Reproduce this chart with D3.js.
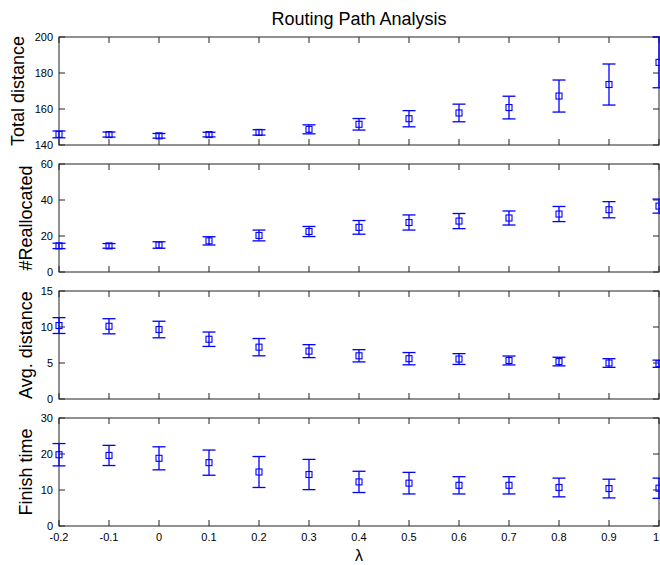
<!DOCTYPE html>
<html>
<head>
<meta charset="utf-8">
<script src="https://cdn.jsdelivr.net/npm/d3@7"></script>
<style>
  body { margin: 0; background: #fff; }
  svg { display: block; font-family: "Liberation Sans", Arial, sans-serif; }
</style>
</head>
<body>
<div id="chart"></div>
<script>
// lambda values on the shared x axis
const lambda = [-0.2, -0.1, 0, 0.1, 0.2, 0.3, 0.4, 0.5, 0.6, 0.7, 0.8, 0.9, 1];
const xTickLabels = ["-0.2", "-0.1", "0", "0.1", "0.2", "0.3", "0.4", "0.5", "0.6", "0.7", "0.8", "0.9", "1"];

// mean and error (half length) for each panel
const totalMean = [145.9, 145.8, 145.1, 145.8, 147.0, 148.7, 151.5, 154.6, 157.8, 160.8, 167.2, 173.6, 185.9];
const totalErr  = [1.9, 1.4, 1.3, 1.3, 1.5, 2.5, 3.2, 4.5, 4.9, 6.3, 8.9, 11.4, 14.1];

const reallocMean = [14.5, 14.5, 15.0, 17.3, 20.3, 22.5, 24.8, 27.5, 28.3, 30.0, 32.2, 34.6, 36.6];
const reallocErr  = [1.5, 1.3, 1.8, 2.3, 3.0, 2.8, 3.8, 4.2, 4.2, 3.9, 4.2, 4.5, 3.9];

const avgMean = [10.2, 10.1, 9.65, 8.3, 7.2, 6.65, 6.0, 5.6, 5.55, 5.35, 5.2, 5.0, 4.9];
const avgErr  = [1.1, 1.05, 1.15, 1.0, 1.2, 0.9, 0.85, 0.85, 0.75, 0.62, 0.6, 0.6, 0.5];

const finishMean = [19.8, 19.6, 18.8, 17.6, 15.0, 14.3, 12.25, 11.9, 11.3, 11.3, 10.7, 10.4, 10.5];
const finishErr  = [3.1, 2.8, 3.2, 3.5, 4.3, 4.2, 2.95, 3.0, 2.4, 2.4, 2.6, 2.6, 2.8];

const panelLabels = ["Total distance", "#Reallocated", "Avg. distance", "Finish time"];
const panelDomains = [[140, 200], [0, 60], [0, 15], [0, 30]];
const panelTicks = [[140, 160, 180, 200], [0, 20, 40, 60], [0, 5, 10, 15], [0, 10, 20, 30]];
const panelMeans = [totalMean, reallocMean, avgMean, finishMean];
const panelErrs = [totalErr, reallocErr, avgErr, finishErr];

const width = 660, height = 565;
const left = 59, right = 659;
const panelTop = [37, 164, 291, 418];
const panelH = 108;
const blue = "#0000ff";
const axisColor = "#222";
const tickLen = 6;
const capHalf = 6.5;
const markerSize = 6;

const svg = d3.select("#chart").append("svg")
    .attr("width", width)
    .attr("height", height);

const x = d3.scaleLinear().domain([-0.2, 1]).range([left, right]);

// title
svg.append("text")
    .attr("x", (left + right) / 2)
    .attr("y", 25)
    .attr("text-anchor", "middle")
    .attr("font-size", 18)
    .text("Routing Path Analysis");

panelLabels.forEach((label, p) => {
    const top = panelTop[p];
    const y = d3.scaleLinear().domain(panelDomains[p]).range([top + panelH, top]);
    const g = svg.append("g");

    // box
    g.append("rect")
        .attr("x", left).attr("y", top)
        .attr("width", right - left).attr("height", panelH)
        .attr("fill", "none").attr("stroke", axisColor).attr("stroke-width", 1);

    // y ticks on both sides, pointing inward
    panelTicks[p].forEach(t => {
        const yy = y(t);
        g.append("line").attr("x1", left).attr("x2", left + tickLen).attr("y1", yy).attr("y2", yy)
            .attr("stroke", axisColor);
        g.append("line").attr("x1", right - tickLen).attr("x2", right).attr("y1", yy).attr("y2", yy)
            .attr("stroke", axisColor);
        g.append("text")
            .attr("x", left - 6).attr("y", yy)
            .attr("text-anchor", "end")
            .attr("dominant-baseline", "central")
            .attr("font-size", 11)
            .text(t);
    });

    // x ticks top and bottom, pointing inward
    lambda.forEach(v => {
        const xx = x(v);
        g.append("line").attr("x1", xx).attr("x2", xx).attr("y1", top).attr("y2", top + tickLen)
            .attr("stroke", axisColor);
        g.append("line").attr("x1", xx).attr("x2", xx).attr("y1", top + panelH - tickLen).attr("y2", top + panelH)
            .attr("stroke", axisColor);
    });

    // y label
    const lx = p === 0 ? 24 : 32;
    g.append("text")
        .attr("transform", `translate(${lx},${top + panelH / 2}) rotate(-90)`)
        .attr("text-anchor", "middle")
        .attr("font-size", 18)
        .text(label);

    // error bars
    const means = panelMeans[p], errs = panelErrs[p];
    const pts = lambda.map((v, i) => ({ v, m: means[i], e: errs[i] }));
    const eb = g.append("g")
        .attr("stroke", blue)
        .attr("stroke-width", 1.3)
        .attr("fill", "none");
    eb.selectAll(".vbar").data(pts).enter().append("line")
        .attr("x1", d => x(d.v)).attr("x2", d => x(d.v))
        .attr("y1", d => y(d.m - d.e)).attr("y2", d => y(d.m + d.e));
    eb.selectAll(".capTop").data(pts).enter().append("line")
        .attr("x1", d => x(d.v) - capHalf).attr("x2", d => x(d.v) + capHalf)
        .attr("y1", d => y(d.m + d.e)).attr("y2", d => y(d.m + d.e));
    eb.selectAll(".capBot").data(pts).enter().append("line")
        .attr("x1", d => x(d.v) - capHalf).attr("x2", d => x(d.v) + capHalf)
        .attr("y1", d => y(d.m - d.e)).attr("y2", d => y(d.m - d.e));
    eb.selectAll(".mk").data(pts).enter().append("rect")
        .attr("x", d => x(d.v) - markerSize / 2)
        .attr("y", d => y(d.m) - markerSize / 2)
        .attr("width", markerSize).attr("height", markerSize)
        .attr("stroke-width", 1.1);

    // x tick labels only on the bottom panel
    if (p === panelLabels.length - 1) {
        lambda.forEach((v, i) => {
            const last = i === lambda.length - 1;
            g.append("text")
                .attr("x", last ? x(v) : x(v))
                .attr("y", top + panelH + 15)
                .attr("text-anchor", last ? "end" : "middle")
                .attr("font-size", 11)
                .text(xTickLabels[i]);
        });
        g.append("text")
            .attr("x", (left + right) / 2).attr("y", top + panelH + 35)
            .attr("text-anchor", "middle")
            .attr("font-size", 16)
            .text("λ");
    }
});
</script>
</body>
</html>
